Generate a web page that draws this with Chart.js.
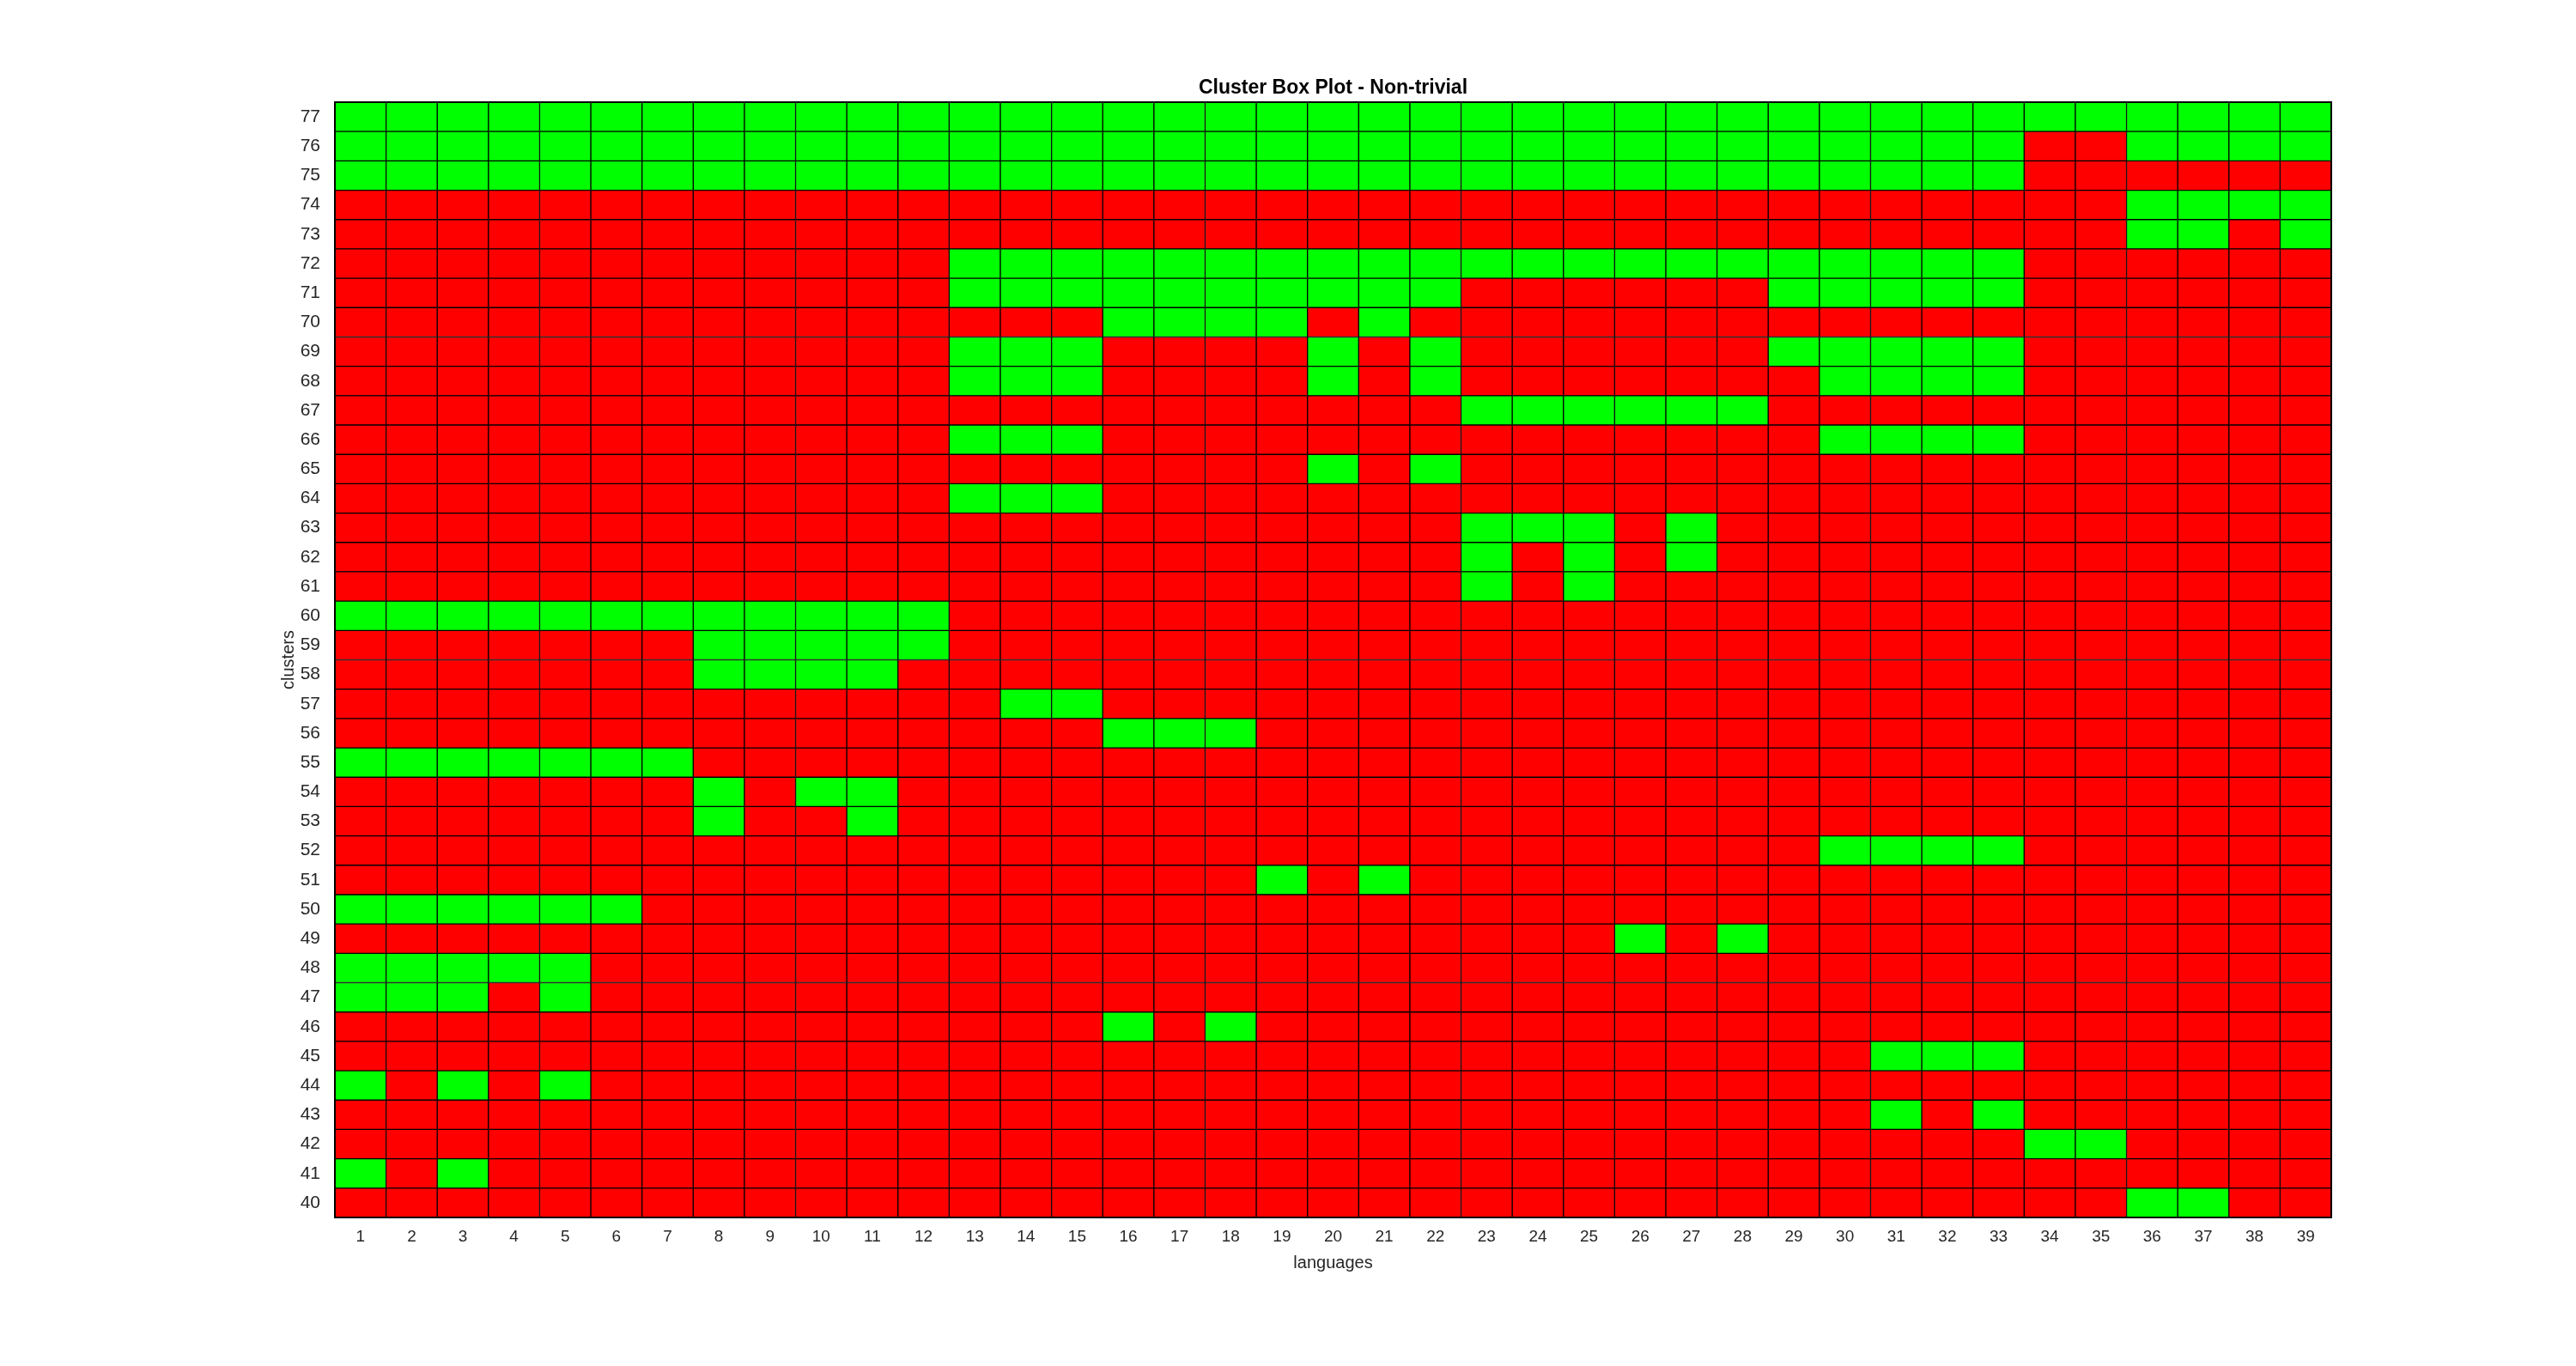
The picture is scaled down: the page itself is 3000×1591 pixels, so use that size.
<!DOCTYPE html>
<html>
<head>
<meta charset="utf-8">
<title>Cluster Box Plot - Non-trivial</title>
<script src="https://cdn.jsdelivr.net/npm/chart.js@4.4.1/dist/chart.umd.min.js"></script>
<style>
  html, body { margin: 0; padding: 0; background: #ffffff; }
  #wrap { width: 3000px; height: 1591px; }
</style>
</head>
<body>
<div id="wrap"><canvas id="clusterChart" width="3000" height="1591"></canvas></div>
<script>
// x axis: languages 1..39
const languages = [
  1, 2, 3, 4, 5, 6, 7, 8, 9, 10, 11, 12, 13, 14, 15, 16, 17, 18, 19, 20,
  21, 22, 23, 24, 25, 26, 27, 28, 29, 30, 31, 32, 33, 34, 35, 36, 37, 38, 39
];

// y axis: clusters 40..77
const clusters = [
  40, 41, 42, 43, 44, 45, 46, 47, 48, 49, 50, 51, 52, 53, 54, 55, 56, 57, 58,
  59, 60, 61, 62, 63, 64, 65, 66, 67, 68, 69, 70, 71, 72, 73, 74, 75, 76, 77
];

// green cells: languages that pass for each cluster (same order as clusters)
const greenLanguages = [
  [36, 37],                                            // 40
  [1, 3],                                              // 41
  [34, 35],                                            // 42
  [31, 33],                                            // 43
  [1, 3, 5],                                           // 44
  [31, 32, 33],                                        // 45
  [16, 18],                                            // 46
  [1, 2, 3, 5],                                        // 47
  [1, 2, 3, 4, 5],                                     // 48
  [26, 28],                                            // 49
  [1, 2, 3, 4, 5, 6],                                  // 50
  [19, 21],                                            // 51
  [30, 31, 32, 33],                                    // 52
  [8, 11],                                             // 53
  [8, 10, 11],                                         // 54
  [1, 2, 3, 4, 5, 6, 7],                               // 55
  [16, 17, 18],                                        // 56
  [14, 15],                                            // 57
  [8, 9, 10, 11],                                      // 58
  [8, 9, 10, 11, 12],                                  // 59
  [1, 2, 3, 4, 5, 6, 7, 8, 9, 10, 11, 12],             // 60
  [23, 25],                                            // 61
  [23, 25, 27],                                        // 62
  [23, 24, 25, 27],                                    // 63
  [13, 14, 15],                                        // 64
  [20, 22],                                            // 65
  [13, 14, 15, 30, 31, 32, 33],                        // 66
  [23, 24, 25, 26, 27, 28],                            // 67
  [13, 14, 15, 20, 22, 30, 31, 32, 33],                // 68
  [13, 14, 15, 20, 22, 29, 30, 31, 32, 33],            // 69
  [16, 17, 18, 19, 21],                                // 70
  [13, 14, 15, 16, 17, 18, 19, 20, 21, 22,
   29, 30, 31, 32, 33],                                // 71
  [13, 14, 15, 16, 17, 18, 19, 20, 21, 22, 23, 24, 25,
   26, 27, 28, 29, 30, 31, 32, 33],                    // 72
  [36, 37, 39],                                        // 73
  [36, 37, 38, 39],                                    // 74
  [1, 2, 3, 4, 5, 6, 7, 8, 9, 10, 11, 12, 13, 14, 15, 16, 17,
   18, 19, 20, 21, 22, 23, 24, 25, 26, 27, 28, 29, 30, 31, 32, 33], // 75
  [1, 2, 3, 4, 5, 6, 7, 8, 9, 10, 11, 12, 13, 14, 15, 16, 17,
   18, 19, 20, 21, 22, 23, 24, 25, 26, 27, 28, 29, 30, 31, 32, 33,
   36, 37, 38, 39],                                    // 76
  [1, 2, 3, 4, 5, 6, 7, 8, 9, 10, 11, 12, 13, 14, 15, 16, 17, 18, 19, 20,
   21, 22, 23, 24, 25, 26, 27, 28, 29, 30, 31, 32, 33, 34, 35, 36, 37, 38, 39] // 77
];

const GREEN = "#00ff00";
const RED = "#ff0000";
const TEXT = "#262626";
const FONT = "'Liberation Sans', Arial, Helvetica, sans-serif";

// one floating-bar dataset per cluster row, each bar is one cell
const datasets = clusters.map((c, i) => ({
  label: "cluster " + c,
  data: languages.map(() => [c - 0.5, c + 0.5]),
  backgroundColor: languages.map((l) =>
    greenLanguages[i].includes(l) ? GREEN : RED
  ),
  borderColor: "#000000",
  borderWidth: 1,
  borderSkipped: false,
  grouped: false,
  barPercentage: 1,
  categoryPercentage: 1,
}));

// black frame round the plot area
const frame = {
  id: "frame",
  afterDatasetsDraw(chart) {
    const { ctx, chartArea } = chart;
    ctx.save();
    ctx.strokeStyle = "#000000";
    ctx.lineWidth = 2;
    ctx.strokeRect(
      chartArea.left,
      chartArea.top,
      chartArea.right - chartArea.left,
      chartArea.bottom - chartArea.top
    );
    ctx.restore();
  },
};

const ctx = document.getElementById("clusterChart").getContext("2d");

new Chart(ctx, {
  type: "bar",
  data: {
    labels: languages.map(String),
    datasets: datasets,
  },
  options: {
    responsive: false,
    animation: false,
    devicePixelRatio: 1,
    layout: {
      padding: { left: 320, right: 285, top: 0, bottom: 104 },
    },
    plugins: {
      legend: { display: false },
      tooltip: { enabled: false },
      title: {
        display: true,
        text: "Cluster Box Plot - Non-trivial",
        fullSize: false,
        color: "#000000",
        font: { family: FONT, size: 23, weight: "bold" },
        padding: { top: 89, bottom: 2.4 },
      },
    },
    scales: {
      x: {
        type: "category",
        grid: { display: false },
        border: { display: false },
        ticks: {
          color: TEXT,
          font: { family: FONT, size: 19 },
          padding: 3,
          maxRotation: 0,
          autoSkip: false,
        },
        title: {
          display: true,
          text: "languages",
          color: TEXT,
          font: { family: FONT, size: 20 },
        },
        afterFit: (scale) => {
          scale.height = 69;
        },
      },
      y: {
        type: "linear",
        min: 39.5,
        max: 77.5,
        grid: { display: false },
        border: { display: false },
        afterBuildTicks: (axis) => {
          axis.ticks = clusters.map((v) => ({ value: v }));
        },
        ticks: {
          color: TEXT,
          font: { family: FONT, size: 21 },
          padding: 9,
        },
        title: {
          display: true,
          text: "clusters",
          color: TEXT,
          font: { family: FONT, size: 20 },
        },
        afterFit: (scale) => {
          scale.width = 70;
        },
      },
    },
  },
  plugins: [frame],
});
</script>
</body>
</html>
